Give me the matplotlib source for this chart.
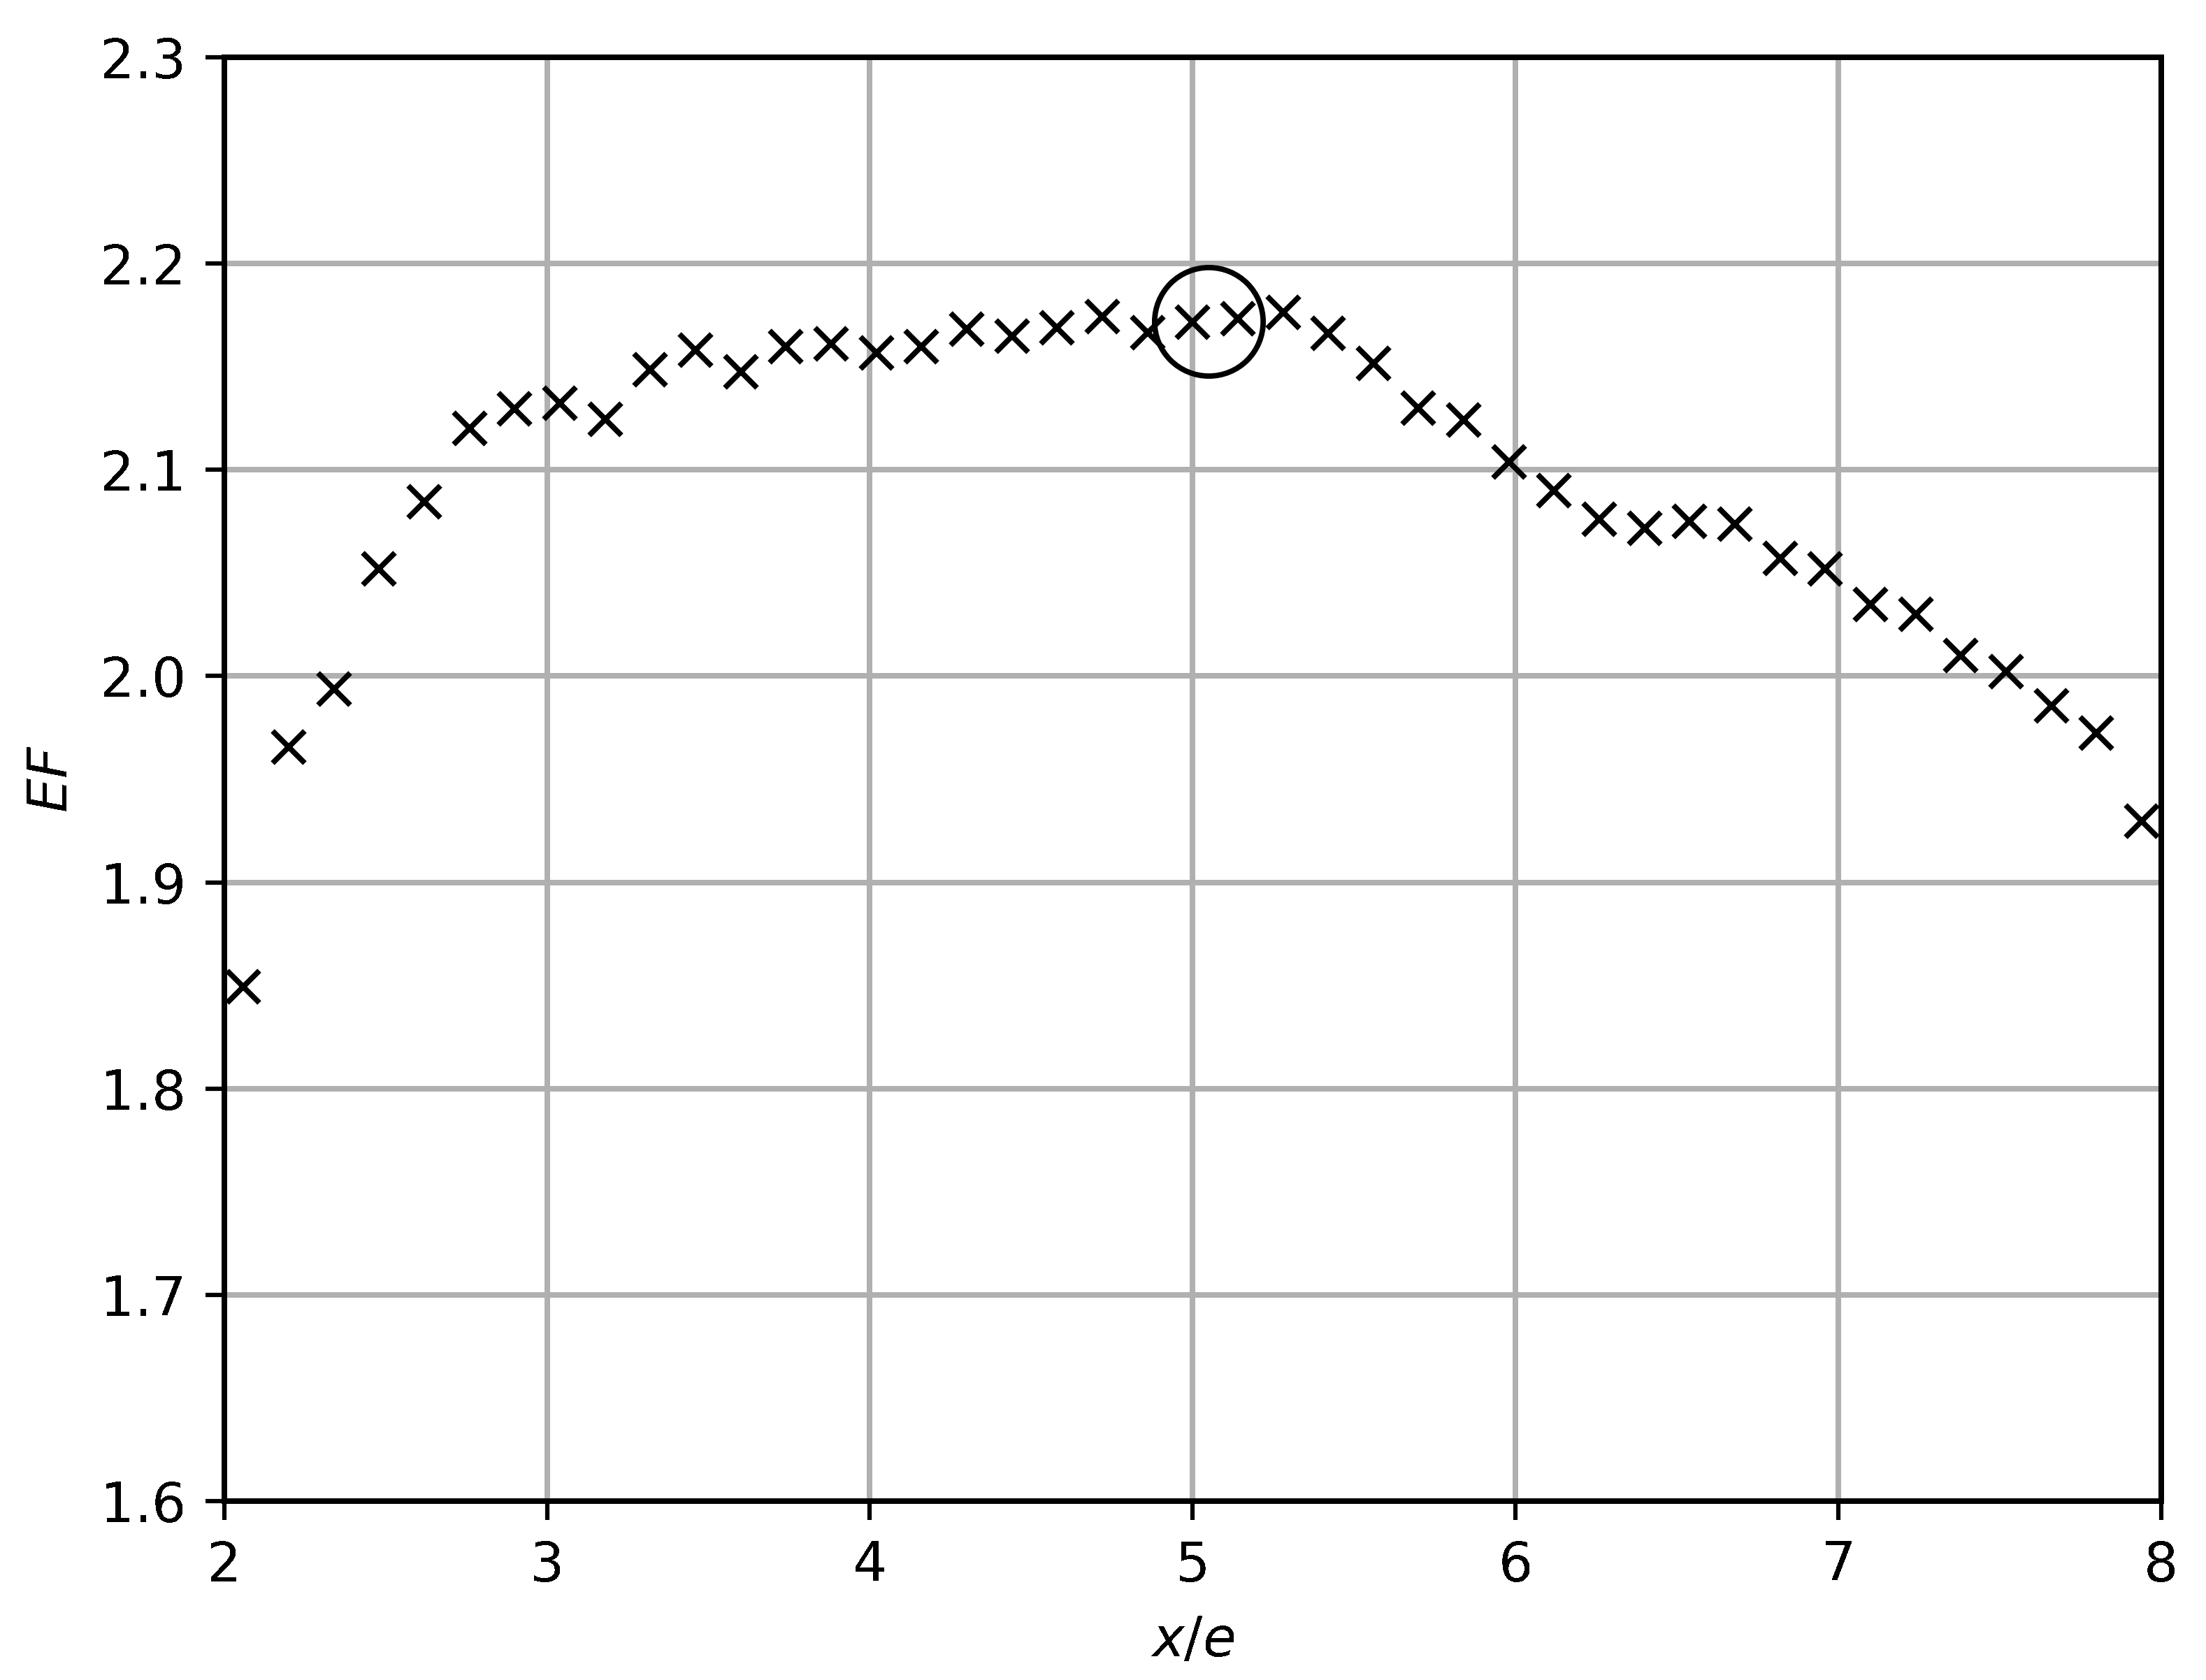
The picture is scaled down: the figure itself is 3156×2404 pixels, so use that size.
import matplotlib
matplotlib.use("Agg")
import matplotlib.pyplot as plt

plt.rcParams["lines.antialiased"] = False
plt.rcParams["patch.antialiased"] = False
plt.rcParams["text.antialiased"] = False

# data
x_vals = [2.06, 2.20, 2.34, 2.48, 2.62, 2.76, 2.90, 3.04, 3.18, 3.32,
          3.46, 3.60, 3.74, 3.88, 4.02, 4.16, 4.30, 4.44, 4.58, 4.72,
          4.86, 5.00, 5.14, 5.28, 5.42, 5.56, 5.70, 5.84, 5.98, 6.12,
          6.26, 6.40, 6.54, 6.68, 6.82, 6.96, 7.10, 7.24, 7.38, 7.52,
          7.66, 7.80, 7.94]
ef_vals = [1.8495, 1.9657, 1.9938, 2.0519, 2.0845, 2.1202, 2.1295, 2.1321, 2.1245, 2.1486,
           2.1581, 2.1474, 2.1598, 2.1609, 2.1567, 2.1597, 2.1680, 2.1649, 2.1687, 2.1744,
           2.1665, 2.1714, 2.1733, 2.1762, 2.1661, 2.1517, 2.1298, 2.1241, 2.1038, 2.0899,
           2.0760, 2.0717, 2.0750, 2.0738, 2.0571, 2.0518, 2.0348, 2.0298, 2.0098, 2.0023,
           1.9856, 1.9723, 1.9298]
highlight_x = [5.05]
highlight_y = [2.172]

DPI = 559
fig = plt.figure(figsize=(3157 / DPI, 2404 / DPI), dpi=DPI)
ax = fig.add_axes([0.1016, 0.1064, 0.9793 - 0.1016, 0.9660 - 0.1064])

ax.plot(x_vals, ef_vals, linestyle="none", marker="x", color="k", markersize=6)
ax.plot(highlight_x, highlight_y, linestyle="none", marker="o", markersize=20,
        markerfacecolor="none", markeredgecolor="k", markeredgewidth=1.0)

ax.set_xlim(2, 8)
ax.set_ylim(1.6, 2.3)
ax.grid(True)
ax.set_axisbelow(True)
ax.set_xlabel("$x/e$")
ax.set_ylabel("$EF$")

fig.savefig("out.png", dpi=DPI)
